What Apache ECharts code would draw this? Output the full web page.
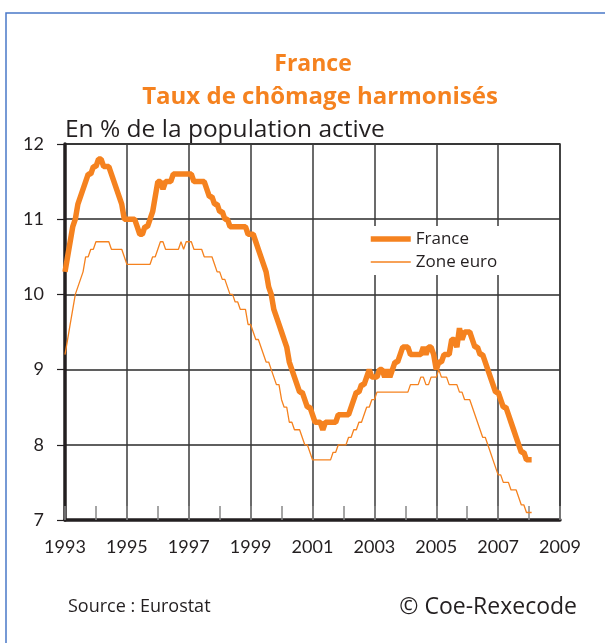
<!DOCTYPE html>
<html>
    <head>
        <meta charset="utf-8">
        <script src="https://cdn.jsdelivr.net/npm/echarts/dist/echarts.min.js"></script>
        <style>
            html, body { margin: 0; padding: 0; background: #fff; }
            #main { width: 605px; height: 643px; }
        </style>
    </head>
    <body>
        <div id="main"></div>

        <script>

            // monthly series, Jan 1993 .. Feb 2008
            var startYear = 1993;
            var xTicks = [1993, 1995, 1997, 1999, 2001, 2003, 2005, 2007, 2009];
            var yTicks = [7, 8, 9, 10, 11, 12];
            var seriesNames = ['France', 'Zone euro'];

            var france = [
                10.3, 10.5, 10.7, 10.9, 11.0, 11.2, 11.3, 11.4, 11.5, 11.6, 11.6, 11.7,  // 1993
                11.7, 11.8, 11.8, 11.7, 11.7, 11.7, 11.6, 11.5, 11.4, 11.3, 11.2, 11.0,  // 1994
                11.0, 11.0, 11.0, 11.0, 10.9, 10.8, 10.8, 10.9, 10.9, 11.0, 11.1, 11.3,  // 1995
                11.5, 11.5, 11.4, 11.5, 11.5, 11.5, 11.6, 11.6, 11.6, 11.6, 11.6, 11.6,  // 1996
                11.6, 11.6, 11.5, 11.5, 11.5, 11.5, 11.5, 11.4, 11.3, 11.3, 11.2, 11.2,  // 1997
                11.1, 11.1, 11.0, 11.0, 10.9, 10.9, 10.9, 10.9, 10.9, 10.9, 10.9, 10.8,  // 1998
                10.8, 10.8, 10.7, 10.6, 10.5, 10.4, 10.3, 10.1, 10.0, 9.8, 9.7, 9.6,     // 1999
                9.5, 9.4, 9.3, 9.1, 9.0, 8.9, 8.8, 8.7, 8.7, 8.6, 8.5, 8.5,              // 2000
                8.4, 8.3, 8.3, 8.3, 8.2, 8.3, 8.3, 8.3, 8.3, 8.3, 8.4, 8.4,              // 2001
                8.4, 8.4, 8.4, 8.5, 8.6, 8.7, 8.7, 8.8, 8.8, 8.9, 9.0, 8.9,              // 2002
                8.9, 8.9, 9.0, 9.0, 8.9, 9.0, 8.9, 9.0, 9.1, 9.1, 9.2, 9.3,              // 2003
                9.3, 9.3, 9.2, 9.2, 9.2, 9.2, 9.2, 9.3, 9.2, 9.3, 9.3, 9.2,              // 2004
                9.0, 9.1, 9.1, 9.2, 9.2, 9.2, 9.4, 9.4, 9.3, 9.55, 9.4, 9.5,             // 2005
                9.5, 9.5, 9.4, 9.3, 9.3, 9.2, 9.2, 9.1, 9.0, 8.9, 8.8, 8.7,              // 2006
                8.7, 8.6, 8.5, 8.5, 8.4, 8.3, 8.2, 8.1, 8.0, 7.9, 7.9, 7.8,              // 2007
                7.8, 7.8                                                                 // 2008
            ];

            var zoneEuro = [
                9.2, 9.4, 9.6, 9.8, 10.0, 10.1, 10.2, 10.3, 10.5, 10.5, 10.6, 10.6,      // 1993
                10.7, 10.7, 10.7, 10.7, 10.7, 10.7, 10.6, 10.6, 10.6, 10.6, 10.6, 10.5,  // 1994
                10.4, 10.4, 10.4, 10.4, 10.4, 10.4, 10.4, 10.4, 10.4, 10.4, 10.5, 10.5,  // 1995
                10.6, 10.7, 10.7, 10.6, 10.6, 10.6, 10.6, 10.6, 10.6, 10.7, 10.6, 10.7,  // 1996
                10.7, 10.7, 10.6, 10.6, 10.6, 10.6, 10.5, 10.5, 10.5, 10.5, 10.4, 10.3,  // 1997
                10.3, 10.2, 10.2, 10.1, 10.0, 10.0, 9.9, 9.9, 9.8, 9.8, 9.8, 9.6,        // 1998
                9.6, 9.5, 9.4, 9.4, 9.3, 9.2, 9.1, 9.1, 9.0, 8.9, 8.8, 8.8,              // 1999
                8.6, 8.5, 8.5, 8.3, 8.3, 8.2, 8.2, 8.2, 8.1, 8.0, 8.0, 7.9,              // 2000
                7.8, 7.8, 7.8, 7.8, 7.8, 7.8, 7.8, 7.8, 7.9, 7.9, 8.0, 8.0,              // 2001
                8.0, 8.0, 8.1, 8.1, 8.2, 8.2, 8.3, 8.3, 8.4, 8.5, 8.5, 8.6,              // 2002
                8.6, 8.7, 8.7, 8.7, 8.7, 8.7, 8.7, 8.7, 8.7, 8.7, 8.7, 8.7,              // 2003
                8.7, 8.7, 8.8, 8.8, 8.8, 8.8, 8.9, 8.9, 8.8, 8.8, 8.9, 8.9,              // 2004
                8.9, 9.0, 8.9, 8.9, 8.9, 8.8, 8.8, 8.8, 8.8, 8.7, 8.7, 8.6,              // 2005
                8.6, 8.6, 8.5, 8.4, 8.3, 8.2, 8.1, 8.1, 8.0, 7.9, 7.8, 7.7,              // 2006
                7.6, 7.6, 7.5, 7.5, 7.5, 7.4, 7.4, 7.4, 7.3, 7.2, 7.2, 7.1,              // 2007
                7.1, 7.1                                                                 // 2008
            ];

            var orange = '#f5821f';
            var ink = '#231f20';
            var font = 'Lato';
            var textFont = '"Open Sans"';

            function toPoints(values) {
                return values.map(function (v, i) {
                    return [startYear + i / 12, v];
                });
            }

            var chart = echarts.init(document.getElementById('main'));

            chart.setOption({
                animation: false,
                textStyle: { fontFamily: font },
                grid: {
                    left: 65,
                    top: 144,
                    width: 495,
                    height: 376,
                    show: true,
                    borderColor: '#333',
                    borderWidth: 1.5
                },
                legend: {
                    left: 358,
                    top: 226,
                    orient: 'vertical',
                    backgroundColor: '#fff',
                    padding: [4, 8, 4, 10],
                    itemWidth: 40,
                    itemHeight: 14,
                    itemGap: 5,
                    itemStyle: { opacity: 0 },
                    data: [
                        { name: seriesNames[0], lineStyle: { width: 5.5, color: orange } },
                        { name: seriesNames[1], lineStyle: { width: 1.3, color: orange } }
                    ],
                    textStyle: { fontSize: 17, color: ink, lineHeight: 18, fontFamily: 'Open Sans' }
                },
                xAxis: {
                    type: 'value',
                    min: xTicks[0],
                    max: xTicks[xTicks.length - 1],
                    interval: 2,
                    axisLine: { lineStyle: { color: ink, width: 3.5 } },
                    axisTick: { show: true, inside: true, length: 14, lineStyle: { color: '#888', width: 1.5 } },
                    minorTick: { show: true, splitNumber: 2, length: 14, lineStyle: { color: '#888', width: 1.5 } },
                    axisLabel: {
                        margin: 18,
                        fontSize: 18,
                        color: ink,
                        formatter: function (v) { return String(Math.round(v)); }
                    },
                    splitLine: { show: true, lineStyle: { color: '#3a3a3a', width: 1.5 } }
                },
                yAxis: {
                    type: 'value',
                    min: yTicks[0],
                    max: yTicks[yTicks.length - 1],
                    interval: 1,
                    axisLine: { show: true, lineStyle: { color: ink, width: 3.5 } },
                    axisTick: { show: true, length: 8, lineStyle: { color: ink, width: 1.2 } },
                    axisLabel: { margin: 21, fontSize: 18, color: ink },
                    splitLine: { show: true, lineStyle: { color: '#2a2a2a', width: 1.5 } }
                },
                graphic: [
                    {
                        type: 'rect',
                        shape: { x: 6, y: 13, width: 640, height: 680 },
                        style: { fill: 'none', stroke: '#4a78c8', lineWidth: 1.5 },
                        silent: true
                    },
                    {
                        type: 'text', x: 313, y: 64,
                        style: {
                            text: 'France', fill: orange, font: 'bold 23px ' + textFont,
                            textAlign: 'center', textVerticalAlign: 'middle'
                        }
                    },
                    {
                        type: 'text', x: 320, y: 97,
                        style: {
                            text: 'Taux de chômage harmonisés', fill: orange, font: 'bold 24px ' + textFont,
                            textAlign: 'center', textVerticalAlign: 'middle'
                        }
                    },
                    {
                        type: 'text', x: 65, y: 130,
                        style: {
                            text: 'En % de la population active', fill: ink, font: '24.5px ' + textFont,
                            textAlign: 'left', textVerticalAlign: 'middle'
                        }
                    },
                    {
                        type: 'text', x: 68, y: 607,
                        style: {
                            text: 'Source : Eurostat', fill: ink, font: '18px ' + textFont,
                            textAlign: 'left', textVerticalAlign: 'middle'
                        }
                    },
                    {
                        type: 'text', x: 577, y: 607,
                        style: {
                            text: '© Coe-Rexecode', fill: ink, font: '23px ' + textFont,
                            textAlign: 'right', textVerticalAlign: 'middle'
                        }
                    }
                ],
                series: [
                    {
                        name: seriesNames[0],
                        type: 'line',
                        symbol: 'none',
                        color: orange,
                        lineStyle: { width: 5.5, color: orange },
                        z: 3,
                        data: toPoints(france)
                    },
                    {
                        name: seriesNames[1],
                        type: 'line',
                        symbol: 'none',
                        color: orange,
                        lineStyle: { width: 1.3, color: orange },
                        z: 2,
                        data: toPoints(zoneEuro)
                    }
                ]
            });

        </script>
    </body>
</html>
